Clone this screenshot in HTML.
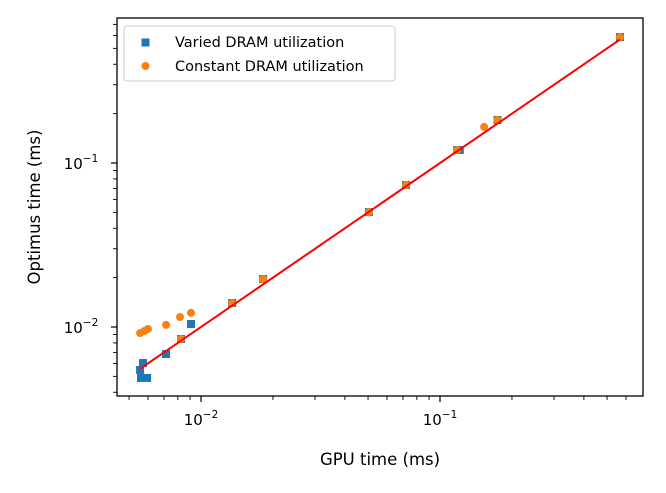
<!DOCTYPE html>
<html><head><meta charset="utf-8"><style>
body{margin:0;background:#fff;font-family:"Liberation Sans","DejaVu Sans",sans-serif}
svg text{font-family:"DejaVu Sans","Liberation Sans",sans-serif}
</style></head><body>
<svg id="chart" width="666" height="488" xmlns="http://www.w3.org/2000/svg">
<g id="marks"></g>
<rect x="117" y="18" width="526" height="378" fill="none" stroke="#000" stroke-width="1.3"/>
<g id="ticks"></g>
<text x="380" y="465" font-size="16.5" text-anchor="middle">GPU time (ms)</text>
<text transform="translate(40,207) rotate(-90)" font-size="16.5" text-anchor="middle">Optimus time (ms)</text>
<g>
<rect x="124" y="26" width="271" height="55" rx="3" fill="#fff" fill-opacity="0.8" stroke="#ccc"/>
<rect x="141.5" y="38.5" width="8" height="8" fill="#1f77b4"/>
<text x="175" y="47" font-size="14.5">Varied DRAM utilization</text>
<circle cx="145.5" cy="66" r="4" fill="#ff7f0e"/>
<text x="175" y="71" font-size="14.5">Constant DRAM utilization</text>
</g>
</svg>
<script>
const variedX=[0.00556,0.00572,0.00561,0.00595,0.00714,0.00825,0.00908,0.0135,0.0182,0.0504,0.0721,0.118,0.121,0.174,0.566];
const variedY=[0.00547,0.00603,0.00489,0.00489,0.00684,0.00845,0.01043,0.0140,0.0196,0.0502,0.0734,0.120,0.120,0.183,0.586];
const constX=[0.00556,0.00580,0.00600,0.00714,0.00817,0.00908,0.00825,0.0135,0.0182,0.0504,0.0721,0.118,0.153,0.174,0.566];
const constY=[0.00918,0.00946,0.00973,0.0103,0.0115,0.0122,0.00845,0.0140,0.0196,0.0502,0.0734,0.120,0.166,0.183,0.586];
const xTicks=[0.01,0.1];const xTickLabels=["−2","−1"];
const yTicks=[0.01,0.1];const yTickLabels=["−2","−1"];
const xMinor=[0.005,0.006,0.007,0.008,0.009,0.02,0.03,0.04,0.05,0.06,0.07,0.08,0.09,0.2,0.3,0.4,0.5,0.6];
const yMinor=[0.004,0.005,0.006,0.007,0.008,0.009,0.02,0.03,0.04,0.05,0.06,0.07,0.08,0.09,0.2,0.3,0.4,0.5,0.6,0.7];
const NS="http://www.w3.org/2000/svg";
const xS=v=>201+239*(Math.log10(v)+2);
const yS=v=>163-164*(Math.log10(v)+1);
function mk(t,a,p){const e=document.createElementNS(NS,t);for(const k in a)e.setAttribute(k,a[k]);p.appendChild(e);return e;}
const M=document.getElementById('marks'),T=document.getElementById('ticks');
variedX.forEach((x,i)=>{const r=mk('rect',{x:xS(x)-4,y:yS(variedY[i])-4,width:8,height:8,fill:'#1f77b4'},M);

});
constX.forEach((x,i)=>{const c=mk('circle',{cx:xS(x),cy:yS(constY[i]),r:4,fill:'#ff7f0e'},M);

});
const lo=Math.min(...variedX,...constX),hi=Math.max(...variedX,...constX);
const ln=mk('line',{x1:xS(lo),y1:yS(lo),x2:xS(hi),y2:yS(hi),stroke:'#ff0000','stroke-width':2},M);


xTicks.forEach((v,i)=>{const x=xS(v);mk('line',{x1:x,y1:396,x2:x,y2:402,stroke:'#000','stroke-width':1.2},T);
const t=mk('text',{x:x,y:425,'font-size':15,'text-anchor':'middle'},T);


t.innerHTML='10<tspan dy="-7" font-size="10.5">'+xTickLabels[i]+'</tspan>';});
xMinor.forEach(v=>{const x=xS(v);mk('line',{x1:x,y1:396,x2:x,y2:400,stroke:'#000','stroke-width':0.9},T);});
yTicks.forEach((v,i)=>{const y=yS(v);mk('line',{x1:111,y1:y,x2:117,y2:y,stroke:'#000','stroke-width':1.2},T);
const t=mk('text',{x:81,y:y+6,'font-size':15,'text-anchor':'middle'},T);


t.innerHTML='10<tspan dy="-7" font-size="10.5">'+yTickLabels[i]+'</tspan>';});
yMinor.forEach(v=>{const y=yS(v);mk('line',{x1:113,y1:y,x2:117,y2:y,stroke:'#000','stroke-width':0.9},T);});
</script>
</body></html>
